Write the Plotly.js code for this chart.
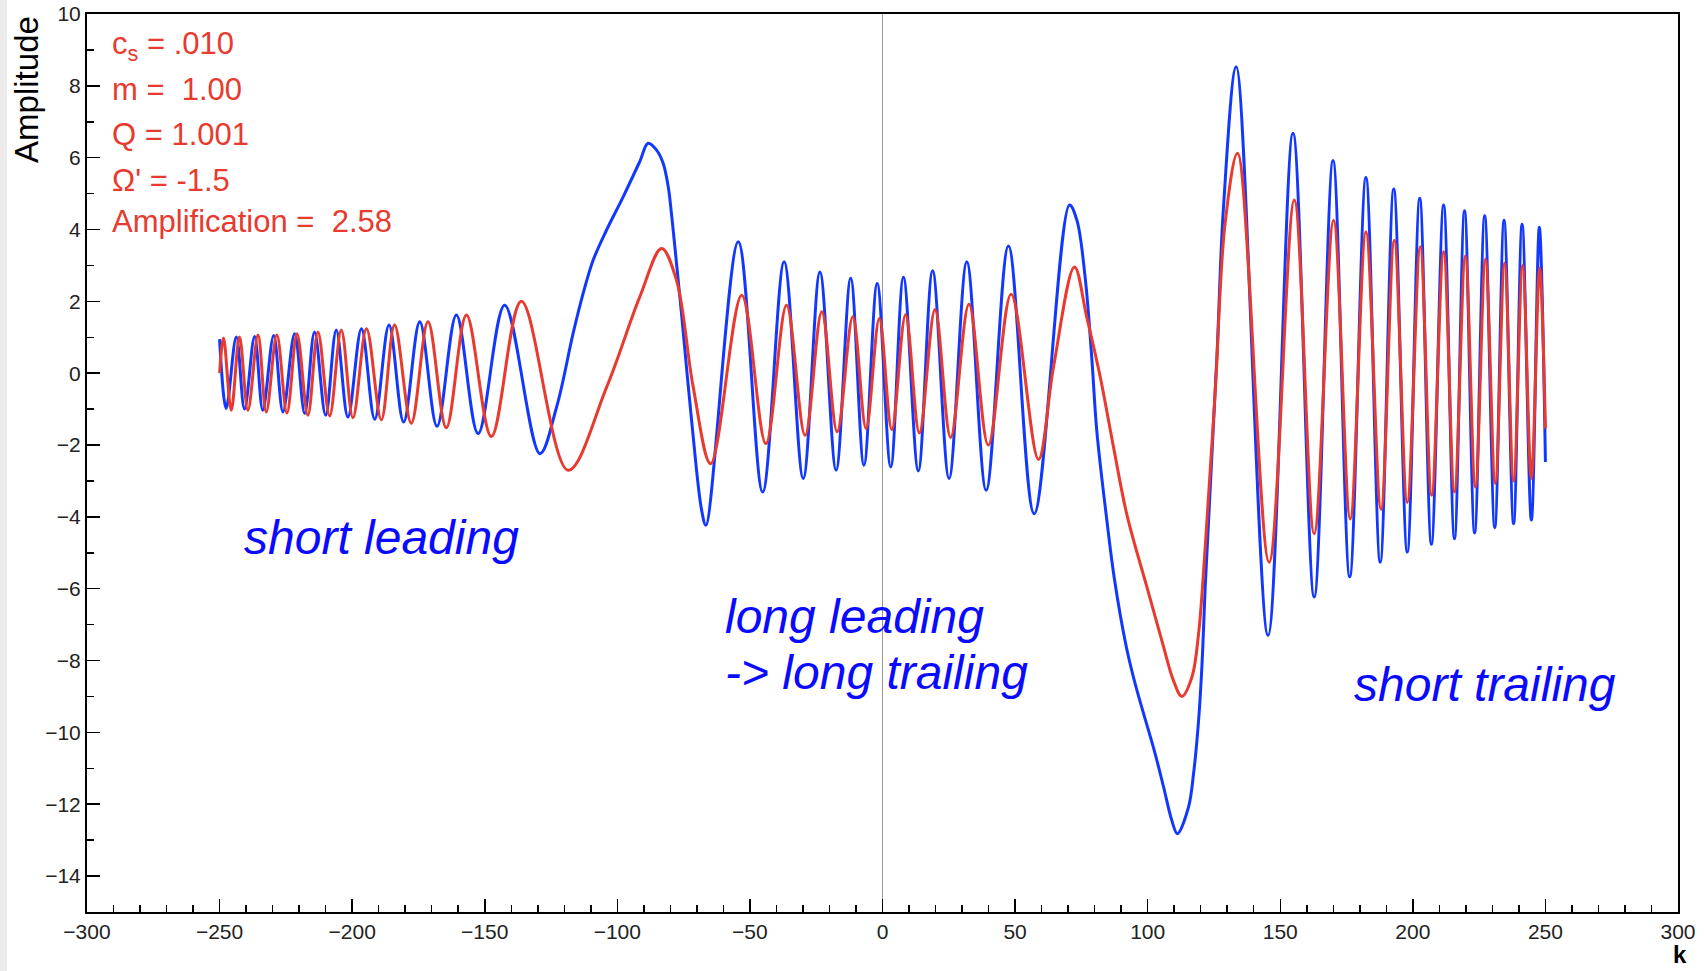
<!DOCTYPE html>
<html>
<head>
<meta charset="utf-8">
<script src="https://cdn.plot.ly/plotly-3.0.1.min.js"></script>
<style>html,body{margin:0;padding:0;background:#fff;}#chart{width:1704px;height:971px;}</style>
</head>
<body>
<div id="chart"></div>
<script>
// Blue curve: k positions and amplitudes (extrema and intermediate points)
const blueK = [-250, -247.5, -243.7, -240.6, -236.8, -233.7, -229.6, -226.1, -221.7, -217.9, -214.2, -210, -206, -201.6, -196.5, -191.5, -186.1, -180.6, -174.5, -168, -160.7, -152.5, -142.5, -129.2, -122.9, -116.7, -112.9, -109.1, -104.1, -97.8, -91.5, -88.4, -85.2, -82.7, -80.8, -79.6, -78.3, -75.8, -72.0, -68.2, -66.6, -54.4, -45.2, -37.1, -29.9, -23.6, -17.5, -12, -7, -2, 3.1, 7.9, 13.5, 18.9, 25.1, 31.8, 39.1, 47.5, 57.2, 70.5, 73.3, 76.4, 78.9, 80.8, 84.6, 87.4, 91.9, 95.3, 102.8, 106, 109.1, 111.2, 115.4, 117.3, 119.2, 120.5, 121.7, 126.1, 128.6, 133.4, 145.4, 154.8, 162.8, 169.9, 176.2, 182.3, 187.7, 192.8, 197.9, 202.6, 207, 211.6, 215.7, 219.5, 223.3, 227.1, 230.9, 234.4, 238, 241.2, 244.7, 247.7, 250];
const blueAmp = [0.95, -0.98, 1.01, -1.0, 1.02, -1.03, 1.05, -1.08, 1.1, -1.12, 1.15, -1.17, 1.2, -1.22, 1.24, -1.28, 1.34, -1.36, 1.43, -1.48, 1.62, -1.68, 1.89, -2.24, -0.94, 1.1, 2.22, 3.15, 3.98, 4.91, 5.9, 6.4, 6.21, 5.84, 5.19, 4.45, 3.52, 1.66, -1.31, -3.82, -4.23, 3.66, -3.31, 3.1, -2.93, 2.82, -2.7, 2.64, -2.56, 2.5, -2.61, 2.67, -2.72, 2.85, -2.93, 3.1, -3.26, 3.54, -3.91, 4.68, 4.26, 2.68, 0.45, -1.59, -4.09, -5.7, -7.6, -8.65, -10.59, -11.52, -12.45, -12.82, -12.08, -11.15, -9.67, -8.09, -5.95, 0.45, 4.63, 8.53, -7.3, 6.68, -6.23, 5.92, -5.67, 5.45, -5.26, 5.13, -4.98, 4.87, -4.76, 4.68, -4.61, 4.52, -4.45, 4.38, -4.3, 4.26, -4.19, 4.15, -4.09, 4.06, -2.47];

// Red curve
const redK = [-250, -248.5, -245.6, -242.5, -239.3, -235.5, -232.4, -228.4, -224.6, -220.8, -216.7, -212.9, -208.5, -204.1, -199.7, -194.6, -189, -184, -177.7, -171.4, -164.5, -156.9, -147.5, -136.2, -118.6, -104, -91.5, -83.3, -77.7, -71.4, -64.8, -53.1, -44, -36.2, -29.2, -22.9, -17.1, -11.2, -6.2, -1.2, 3.5, 8.7, 13.9, 19.8, 25.7, 32.6, 39.9, 48.5, 58.8, 64.5, 72.4, 77, 82.1, 87.1, 92.2, 99.7, 106, 109.7, 112.9, 116.7, 119.2, 121.7, 125.5, 129.2, 133.9, 145.8, 155.3, 162.8, 170.1, 176.4, 182.3, 188, 193, 197.9, 202.8, 207.1, 211.6, 215.7, 219.8, 223.6, 227.4, 231.1, 234.6, 238, 241.4, 244.7, 247.8, 250];
const redAmp = [0.0, 0.98, -1.03, 1.01, -1.03, 1.06, -1.08, 1.06, -1.11, 1.1, -1.17, 1.15, -1.19, 1.2, -1.24, 1.24, -1.3, 1.34, -1.39, 1.43, -1.52, 1.62, -1.76, 2.0, -2.7, -0.38, 2.13, 3.47, 2.59, -0.38, -2.52, 2.17, -1.96, 1.89, -1.73, 1.71, -1.63, 1.57, -1.54, 1.52, -1.57, 1.63, -1.66, 1.77, -1.79, 1.92, -2.0, 2.2, -2.4, 0.18, 2.96, 1.57, -0.1, -2.05, -3.95, -5.95, -7.62, -8.55, -9.0, -8.46, -7.25, -4.84, -0.47, 4.17, 6.12, -5.26, 4.82, -4.47, 4.26, -4.06, 3.94, -3.79, 3.7, -3.6, 3.52, -3.4, 3.38, -3.31, 3.26, -3.17, 3.18, -3.07, 3.07, -3.0, 3.0, -2.93, 2.93, -1.54];

// Axis tick values
const xTicks = [-300, -250, -200, -150, -100, -50, 0, 50, 100, 150, 200, 250, 300];
const yTicks = [-14, -12, -10, -8, -6, -4, -2, 0, 2, 4, 6, 8, 10];

// Parameter text lines
const paramLines = ['c<sub>s</sub> = .010', 'm =\u00a0\u00a01.00', 'Q = 1.001', '\u03a9\' = -1.5', 'Amplification =\u00a0\u00a02.58'];
const regionLabels = ['short leading', 'long leading', '-> long trailing', 'short trailing'];

const FONT = '"Liberation Sans", Arial, Helvetica, sans-serif';
const BLUE = '#1238ff';
const RED = '#e83a2e';

const traces = [
  {x: blueK, y: blueAmp, type: 'scatter', mode: 'lines', line: {color: BLUE, width: 3, shape: 'spline', smoothing: 1}, hoverinfo: 'skip'},
  {x: redK, y: redAmp, type: 'scatter', mode: 'lines', line: {color: RED, width: 3, shape: 'spline', smoothing: 1}, hoverinfo: 'skip'}
];

const paramY = [0.9648, 0.9154, 0.8653, 0.8151, 0.7687];
const annotations = paramLines.map((t, i) => ({
  text: t, xref: 'paper', yref: 'paper', x: 0.0142, y: paramY[i], xanchor: 'left', yanchor: 'middle',
  showarrow: false, font: {family: FONT, size: 31, color: RED}
}));

const labelPos = [[-241.4, -4.57], [-60, -6.77], [-60, -8.32], [177, -8.68]];
regionLabels.forEach((t, i) => {
  annotations.push({
    text: '<i>' + t + '</i>', xref: 'x', yref: 'y', x: labelPos[i][0], y: labelPos[i][1],
    xanchor: 'left', yanchor: 'middle', showarrow: false,
    font: {family: FONT, size: 48, color: '#0a0aff'}
  });
});

annotations.push({text: '<b>k</b>', xref: 'paper', yref: 'paper', x: 1.001, y: -0.0648, xanchor: 'center', yanchor: 'bottom', showarrow: false, font: {family: FONT, size: 24, color: '#000'}});
annotations.push({text: 'Amplitude', xref: 'paper', yref: 'paper', x: -0.0377, y: 0.9155, xanchor: 'center', yanchor: 'middle', textangle: -90, showarrow: false, font: {family: FONT, size: 33, color: '#000'}});

const layout = {
  width: 1704, height: 971,
  margin: {l: 87, r: 26, t: 14, b: 59, pad: 0},
  paper_bgcolor: '#ffffff', plot_bgcolor: '#ffffff',
  showlegend: false,
  font: {family: FONT, color: '#222'},
  xaxis: {
    range: [-300, 300], tickvals: xTicks, ticks: 'inside', ticklen: 13, tickwidth: 1.5, tickcolor: '#000',
    showline: true, linecolor: '#000', linewidth: 2, mirror: true, showgrid: false,
    zeroline: true, zerolinecolor: '#999', zerolinewidth: 1,
    tickfont: {family: FONT, size: 21, color: '#222'},
    minor: {dtick: 10, ticks: 'inside', ticklen: 7, tickwidth: 1.5, tickcolor: '#000', showgrid: false},
    fixedrange: true
  },
  yaxis: {
    range: [-15, 10], tickvals: yTicks, ticks: 'inside', ticklen: 13, tickwidth: 1.5, tickcolor: '#000',
    showline: true, linecolor: '#000', linewidth: 2, mirror: true, showgrid: false, zeroline: false,
    tickfont: {family: FONT, size: 21, color: '#222'},
    minor: {dtick: 1, ticks: 'inside', ticklen: 7, tickwidth: 1.5, tickcolor: '#000', showgrid: false},
    fixedrange: true
  },
  shapes: [
    {type: 'rect', xref: 'paper', yref: 'paper', x0: -0.0547, x1: -0.0503, y0: -0.0657, y1: 1.0156, fillcolor: '#ececec', line: {width: 0}, layer: 'below'}
  ],
  annotations: annotations
};

Plotly.newPlot('chart', traces, layout, {displayModeBar: false, staticPlot: true});
</script>
</body>
</html>
